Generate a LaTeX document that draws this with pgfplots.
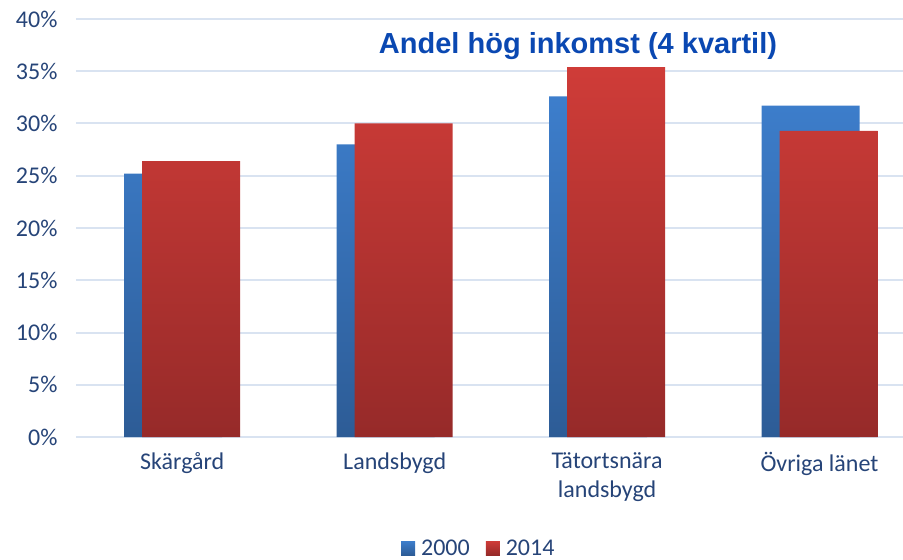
\documentclass[border=0pt]{standalone}
\usepackage{fontspec}
\setmainfont{Carlito}
\newfontfamily\titlefont{Liberation Sans}
\usepackage{pgfplots}
\pgfplotsset{compat=1.18}

\definecolor{txt}{RGB}{38,68,120}
\definecolor{gridc}{RGB}{217,227,241}
\definecolor{titlec}{RGB}{10,72,178}
\definecolor{bluetop}{RGB}{61,126,204}
\definecolor{bluebot}{RGB}{45,92,150}
\definecolor{redtop}{RGB}{207,60,56}
\definecolor{redbot}{RGB}{150,42,41}

\begin{document}
\begin{tikzpicture}
\begin{axis}[
    name=ax,
    scale only axis,
    width=827pt, height=418pt,
    xmin=-0.5, xmax=3.393,
    ymin=0, ymax=40,
    ytick={0,5,...,40},
    xtick={0,1,2,3},
    xticklabels={Skärgård, Landsbygd, {Tätortsnära\\landsbygd}, Övriga länet},
    yticklabel={\pgfmathprintnumber{\tick}\%},
    /pgf/number format/assume math mode=true,
    major tick length=0pt,
    axis line style={draw=none},
    ymajorgrids,
    major grid style={gridc, line width=2pt},
    tick label style={font=\fontsize{24}{29}\selectfont, text=txt},
    xticklabel style={align=center, yshift=-12pt, anchor=north},
    yticklabel style={xshift=-15pt},
    ybar, bar width=98pt,
    clip=false,
    legend style={at={(0.487,-0.2656)}, anchor=center, draw=none, fill=none,
        legend columns=2, font=\fontsize{24}{26}\selectfont, text=txt,
        /tikz/every even column/.append style={column sep=14pt}},
    legend image code/.code={\path[#1] (0pt,-7pt) rectangle (14pt,7pt);
        \path (18pt,0pt);},
]
\addplot[draw=none, top color=bluetop, bottom color=bluebot, bar shift=-9pt]
    coordinates {(0,25.2) (1,28.0) (2,32.6) (3,31.7)};
\addlegendentry{2000}
\addplot[draw=none, top color=redtop, bottom color=redbot, bar shift=9pt]
    coordinates {(0,26.4) (1,30.0) (2,35.4) (3,29.3)};
\addlegendentry{2014}
\node[font=\titlefont\bfseries\fontsize{29}{32}\selectfont, text=titlec]
    at (rel axis cs:0.607,0.935) {Andel hög inkomst (4 kvartil)};
\end{axis}
\pgfresetboundingbox
\path (ax.south west) ++(-76pt,-123pt) rectangle ++(903pt,560pt);
\end{tikzpicture}
\end{document}
